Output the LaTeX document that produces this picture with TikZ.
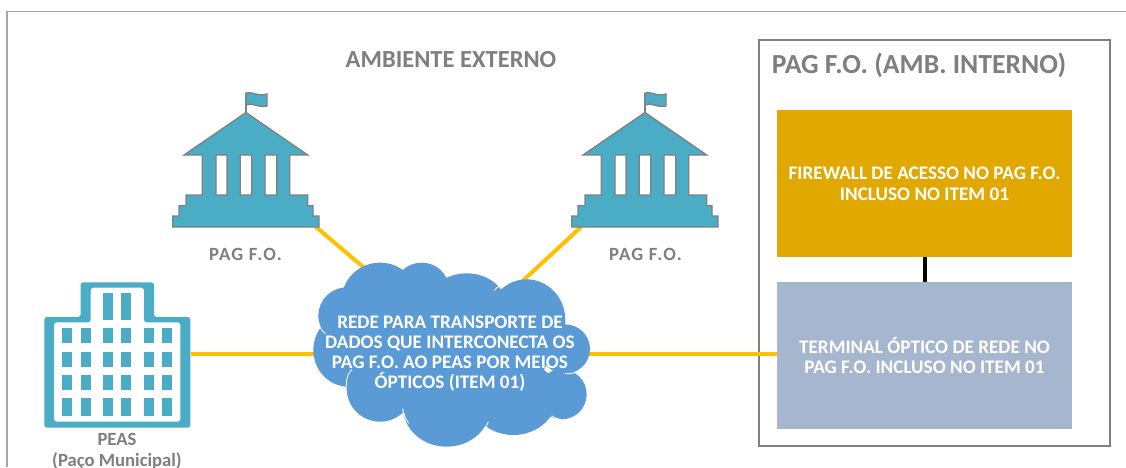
\documentclass[tikz,border=0pt]{standalone}
\usepackage{fontspec}
\setmainfont{Carlito}
\definecolor{greytxt}{HTML}{7F7F7F}
\definecolor{framegrey}{HTML}{A6A6A6}
\definecolor{boxgrey}{HTML}{808080}
\definecolor{teal}{HTML}{4BACC6}
\definecolor{gold}{HTML}{E0A800}
\definecolor{slate}{HTML}{A5B6CE}
\definecolor{cloudblue}{HTML}{5B9BD5}
\definecolor{linkyellow}{HTML}{FFC000}
\tikzset{
  greylabel/.style={text=greytxt,font=\bfseries\fontsize{14}{17}\selectfont,align=center,inner sep=0pt},
  pagl/.style={text=greytxt,font=\bfseries\fontsize{14}{17}\addfontfeatures{LetterSpace=7}\selectfont,inner sep=0pt},
  titlelabel/.style={text=greytxt,font=\bfseries\fontsize{18.4}{22}\selectfont,inner sep=0pt},
  panel/.style={minimum width=221.25pt,minimum height=110.25pt,inner sep=0pt,text=white,align=center,font=\bfseries\fontsize{14.4}{16}\selectfont},
  link/.style={linkyellow,line width=3pt},
  bank/.style={fill=teal,draw=boxgrey,line width=1pt,even odd rule},
  win/.style={fill=teal},
  lobe/.style={fill=cloudblue},
  seam/.style={white,line width=.6pt}
}
\newcommand{\bankicon}[1]{%
  \begin{scope}[shift={(#1,0)}]
    \draw[boxgrey,line width=1pt] (246,113)--(246,93);
    \draw[bank] (246,93) .. controls (252,91) and (258,97) .. (267,94) -- (267,106) .. controls (258,108) and (252,102) .. (246,105) -- cycle;
    \draw[bank] (246,112.5)--(307.7,155)--(289.7,155)--(289.7,195)--(307.7,195)--(307.7,205.7)--(313,205.7)--(313,216)--(319,216)--(319,227)--(172.7,227)--(172.7,216)--(179,216)--(179,205.7)--(186,205.7)--(186,195)--(202.3,195)--(202.3,155)--(184,155)--cycle
      (216,155) rectangle (227,195) (240.3,155) rectangle (251.7,195) (265,155) rectangle (276.7,195);
  \end{scope}}
\begin{document}
\begin{tikzpicture}[x=.75pt,y=-.75pt]
\useasboundingbox (0,0) rectangle (1126,467);
\clip (0,0) rectangle (1126,467);
\fill[white] (0,0) rectangle (1126,467);
% frames
\coordinate (frameTL) at (7,11.5);
\coordinate (frameBL) at (7,467);
\coordinate (frameTR) at (1126,11.5);
\draw[framegrey,line width=1pt] (frameBL) -- (frameTL) -- (frameTR);
\node[draw=boxgrey,line width=.8pt,minimum width=263.25pt,minimum height=304.5pt,inner sep=0pt] (inner) at (934.5,243) {};
% boxes
\node[panel,fill=gold] (fw) at (924.5,183.5) {FIREWALL DE ACESSO NO PAG F.O.\\[-.5pt]INCLUSO NO ITEM 01};
\node[panel,fill=slate] (term) at (924.5,355.5) {TERMINAL ÓPTICO DE REDE NO\\[-.5pt]PAG F.O. INCLUSO NO ITEM 01};
\draw[black,line width=3pt] (fw.south) -- (term.north);
% anchors
\coordinate (net) at (450,354);
\coordinate (bankA) at (316,227);
\coordinate (bankB) at (581,227);
\coordinate (netA) at (375,277);
\coordinate (netB) at (515,288);
\node[minimum width=109.5pt,minimum height=108pt,inner sep=0pt] (peas) at (117.3,355) {};
\draw[link] (bankA) -- (netA);
\draw[link] (bankB) -- (netB);
\draw[link] (peas.east |- net) -- (net);
\draw[link] (net) -- (net -| term.west);
% banks
\bankicon{0}
\bankicon{399}
\node[pagl] (lblA) at (245.5,254) {PAG F.O.};
\node[pagl] (lblB) at (645.5,254) {PAG F.O.};
% PEAS building
\fill[teal,even odd rule,rounded corners=2pt]
  (44.3,317)--(80.7,317)--(80.7,282.3)--(154,282.3)--(154,317)--(190.3,317)--(190.3,427.7)--(44.3,427.7)--cycle
  (54,322.3)--(90.7,322.3)--(90.7,287.7)--(144,287.7)--(144,322.3)--(180.3,322.3)--(180.3,421.7)--(54,421.7)--cycle;
\foreach \c in {62,81,103,121,144,162}{
  \fill[win] (\c,328) rectangle ++(10,15);
  \fill[win] (\c,351.7) rectangle ++(10,15);
  \fill[win] (\c,375) rectangle ++(10,15);
  \fill[win] (\c,398) rectangle ++(10,18);
}
\foreach \c in {103,121}{\fill[win] (\c,293) rectangle ++(10,27);}
\node[greylabel] (lblP) at (117,439) {PEAS};
\node[greylabel] (lblQ) at (117,461) {(Paço Municipal)};
% cloud
\begin{scope}[shift={(300,250)},x=.25pt,y=-.25pt]
  \fill[lobe] (450,300) ellipse (300 and 170);
  \fill[lobe] (240,150) ellipse (115 and 112);
  \fill[lobe] (365,112) ellipse (80 and 74);
  \fill[lobe] (500,170) ellipse (120 and 100);
  \fill[lobe] (680,210) ellipse (116 and 122);
  \fill[lobe] (795,297) ellipse (75 and 74);
  \fill[lobe] (785,433) ellipse (75 and 75);
  \fill[lobe] (640,440) ellipse (130 and 115);
  \fill[lobe] (440,475) ellipse (130 and 115);
  \fill[lobe] (240,415) ellipse (100 and 100);
  \fill[lobe] (145,300) ellipse (105 and 110);
  \fill[lobe] (140,197) ellipse (85 and 85);
  \draw[seam] (582,122) .. controls (592,110) and (602,104) .. (612,100);
  \draw[seam] (139,408) .. controls (138,390) and (142,372) .. (156,358);
  \draw[seam] (308,475) .. controls (310,490) and (316,505) .. (326,520);
  \draw[seam] (565,515) .. controls (562,525) and (556,535) .. (548,542);
  \draw[seam] (795,370) .. controls (810,373) and (825,370) .. (838,362);
  \draw[seam] (60,232) .. controls (64,240) and (70,246) .. (78,252);
  \draw[seam] (755,498) .. controls (762,503) and (770,506) .. (778,507);
\end{scope}
\node[text=white,align=center,inner sep=0pt,font=\bfseries\fontsize{14.4}{15}\selectfont] (netlabel) at (450,354) {REDE PARA TRANSPORTE DE\\DADOS QUE INTERCONECTA OS\\PAG F.O. AO PEAS POR MEIOS\\ÓPTICOS (ITEM 01)};
% titles
\node[titlelabel] (tExt) at (451,60) {AMBIENTE EXTERNO};
\node[titlelabel,font=\bfseries\fontsize{20.7}{24}\selectfont] (tInt) at (919,65) {PAG F.O. (AMB. INTERNO)};
\end{tikzpicture}
\end{document}
